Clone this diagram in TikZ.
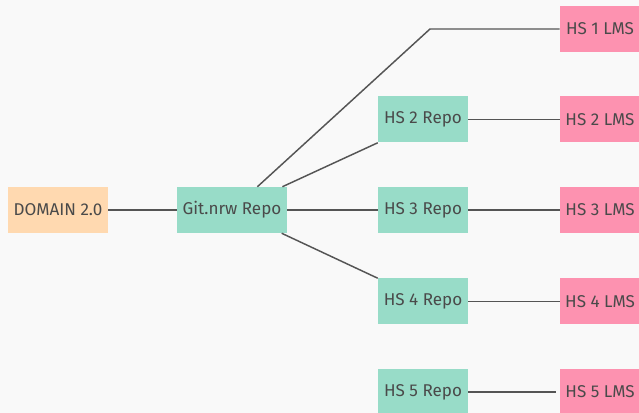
\documentclass[tikz,border=0pt]{standalone}
\usepackage{fontspec}
\setmainfont{Fira Sans}
\definecolor{bggray}{HTML}{F9F9F9}
\definecolor{peach}{HTML}{FFD9B0}
\definecolor{mint}{HTML}{98DCC8}
\definecolor{rose}{HTML}{FD92B0}
\definecolor{inkgray}{HTML}{4A4A4A}
\definecolor{linegray}{HTML}{555555}
\begin{document}
\begin{tikzpicture}[x=0.75pt,y=-0.75pt,
every node/.style={rectangle,inner sep=0pt,minimum height=34.5pt,
text=inkgray,font=\fontsize{12.8}{15}\selectfont},
srcbox/.style={fill=peach,minimum width=75pt},
gitbox/.style={fill=mint,minimum width=82.5pt},
repobox/.style={fill=mint,minimum width=67.5pt},
lmsbox/.style={fill=rose,minimum width=60pt},
link/.style={draw=linegray,line width=1.1pt}]
\fill[bggray] (0,0) rectangle (639,413);
\useasboundingbox (0,0) rectangle (639,413);
\clip (0,0) rectangle (639,413);
\node[srcbox] (D) at (58,210) {DOMAIN 2.0};
\node[gitbox] (G) at (232,210) {Git.nrw Repo};
\node[repobox] (R2) at (423,119.5) {HS 2 Repo};
\node[repobox] (R3) at (423,210) {HS 3 Repo};
\node[repobox] (R4) at (423,301.5) {HS 4 Repo};
\node[repobox] (R5) at (423,392) {HS 5 Repo};
\node[lmsbox] (L1) at (600,29) {HS 1 LMS};
\node[lmsbox] (L2) at (600,119.5) {HS 2 LMS};
\node[lmsbox] (L3) at (600,210) {HS 3 LMS};
\node[lmsbox] (L4) at (600,301.5) {HS 4 LMS};
\node[lmsbox] (L5) at (600,392) {HS 5 LMS};
\coordinate (B1) at (430,29);
\draw[link] (D)--(G);
\draw[link] (G)--(B1)--(L1);
\draw[link] (G)--(R2.south west);
\draw[link] (G)--(R3);
\draw[link] (G)--(R4.north west);
\draw[link] (R2)--(L2);
\draw[link] (R3)--(L3);
\draw[link] (R4)--(L4);
\draw[link,shorten >=3pt] (R5)--(L5);
\end{tikzpicture}
\end{document}
